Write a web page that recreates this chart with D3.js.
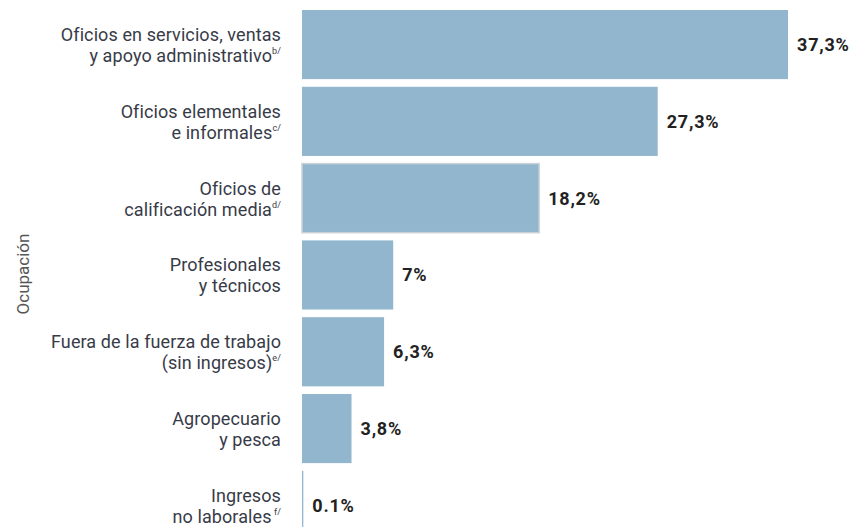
<!DOCTYPE html>
<html>
<head>
<meta charset="utf-8">
<script src="https://cdn.jsdelivr.net/npm/d3@7/dist/d3.min.js"></script>
<style>
  html, body { margin: 0; padding: 0; background: #fff; }
  svg { display: block; }
  .lbl { font-family: "Roboto", sans-serif; font-size: 18px; fill: #373b48; letter-spacing: 0.1px; }
  .val { font-family: "Roboto", sans-serif; font-size: 18px; font-weight: bold; fill: #222; letter-spacing: 0.8px; }
  .axt { font-family: "Roboto", sans-serif; font-size: 17px; fill: #555; }
</style>
</head>
<body>
<svg id="chart" width="855" height="527"></svg>
<script>
// ---- data ----
const categories = [
  "Oficios en servicios, ventas|y apoyo administrativo",
  "Oficios elementales|e informales",
  "Oficios de|calificación media",
  "Profesionales|y técnicos",
  "Fuera de la fuerza de trabajo|(sin ingresos)",
  "Agropecuario|y pesca",
  "Ingresos|no laborales"
];
const notes = ["b/", "c/", "d/", "", "e/", "", " f/"];
const values = [37.3, 27.3, 18.2, 7, 6.3, 3.8, 0.1];
const valueLabels = ["37,3%", "27,3%", "18,2%", "7%", "6,3%", "3,8%", "0.1%"];
const axisTitle = "Ocupación";

// ---- layout ----
const svg = d3.select("#chart");
const x0 = 302;
const step = 76.8;
const x = d3.scaleLinear().domain([0, 37.3]).range([x0, 788]);
const y = d3.scaleBand()
  .domain(categories)
  .range([10, 10 + categories.length * step - 0.1 * step])
  .paddingInner(0.1)
  .paddingOuter(0);

const g = svg.append("g");

g.selectAll("rect.bar")
  .data(values)
  .join("rect")
  .attr("class", "bar")
  .attr("x", x0)
  .attr("y", (d, i) => y(categories[i]))
  .attr("width", d => Math.max(1.3, x(d) - x0))
  .attr("height", y.bandwidth())
  .attr("fill", "#91b6cd")
  .attr("stroke", (d, i) => i === 2 ? "#c9d2d8" : "none")
  .attr("stroke-width", 1.5);

// value labels
g.selectAll("text.val")
  .data(values)
  .join("text")
  .attr("class", "val")
  .attr("x", d => x(d) + 9)
  .attr("y", (d, i) => y(categories[i]) + y.bandwidth() / 2)
  .attr("dy", "0.36em")
  .text((d, i) => valueLabels[i]);

// category labels (two lines, right aligned)
const lblX = 281;
categories.forEach((c, i) => {
  const lines = c.split("|");
  const cy = y(c) + y.bandwidth() / 2;
  g.append("text")
    .attr("class", "lbl")
    .attr("text-anchor", "end")
    .attr("x", lblX)
    .attr("y", cy - 3.5)
    .text(lines[0]);
  const t2 = g.append("text")
    .attr("class", "lbl")
    .attr("text-anchor", "end")
    .attr("x", lblX)
    .attr("y", cy + 17.5);
  t2.append("tspan").text(lines[1]);
  if (notes[i]) {
    t2.append("tspan")
      .attr("font-size", "9px")
      .attr("dy", "-0.9em")
      .text(notes[i]);
  }
});

// axis title
svg.append("text")
  .attr("class", "axt")
  .attr("text-anchor", "middle")
  .attr("transform", "translate(29,274) rotate(-90)")
  .text(axisTitle);
</script>
</body>
</html>
